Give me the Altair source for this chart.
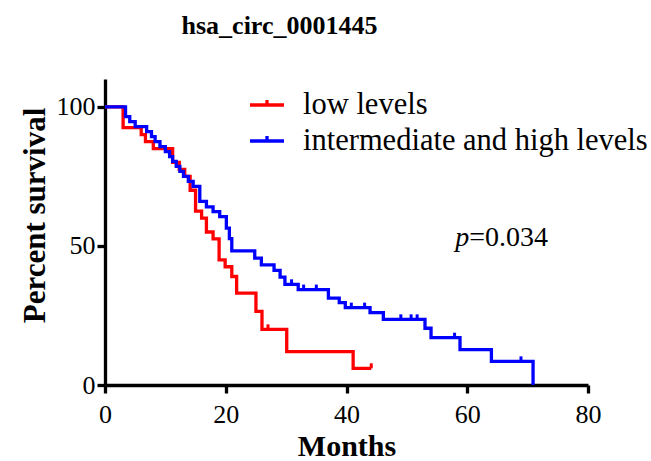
import altair as alt
import pandas as pd

# ---- data ----
groups = ["low levels", "intermediate and high levels"]
colors = ["#ff0000", "#0000ff"]

red_t = [0, 3.0, 6.0, 6.7, 8.0, 11.2, 12.3, 13.2, 14.1, 15.0, 16.0, 16.8, 17.9, 18.9,
         19.9, 21.0, 21.8, 25.0, 26.0, 30.1, 41.1, 44.1]
red_s = [100, 92.5, 90, 87.5, 85, 80, 77.5, 75, 70, 62.5, 60, 55, 52.5, 45,
         42.5, 39, 33, 26.5, 20, 12, 6, 6]
red_cens_t = [27.0, 44.1]
red_cens_s = [20, 6]

blue_t = [0, 3.4, 4.1, 5.0, 6.9, 7.7, 8.3, 9.1, 10.0, 10.7, 11.2, 11.8, 12.4, 13.0,
          13.8, 14.6, 15.7, 16.8, 17.9, 19.0, 20.1, 20.6, 21.0, 24.8, 25.9, 28.0,
          29.0, 29.8, 32.0, 37.0, 38.8, 39.8, 43.9, 46.1, 53.0, 54.0, 58.8, 64.0, 70.9]
blue_s = [100, 96.5, 94.7, 92.9, 91.1, 89.3, 87.5, 85.7, 83.9, 82.1, 80.4, 78.6, 76.8, 75.0,
          73.2, 71.4, 66.0, 64.0, 62.3, 60.5, 56.4, 52.6, 48.2, 45.6, 43.2, 41.2,
          38.8, 36.2, 34.3, 31.2, 29.6, 27.8, 26.0, 23.6, 20.4, 17.0, 12.7, 8.5, 0]
blue_cens_t = [30.9, 32.9, 35.0, 40.8, 43.0, 49.0, 50.7, 51.7, 57.9, 68.9]
blue_cens_s = [36.2, 34.3, 34.3, 27.8, 27.8, 23.6, 23.6, 23.6, 17.0, 8.5]

x_ticks = [0, 20, 40, 60, 80]
y_ticks = [0, 50, 100]
p_label_pos = (58.0, 50.0)

FONT = "Liberation Serif"

lines_df = pd.DataFrame({
    "t": red_t + blue_t,
    "s": red_s + blue_s,
    "g": [groups[0]] * len(red_t) + [groups[1]] * len(blue_t),
    "o": list(range(len(red_t))) + list(range(len(blue_t))),
})
cens_df = pd.DataFrame({
    "t": red_cens_t + blue_cens_t,
    "s": red_cens_s + blue_cens_s,
    "g": [groups[0]] * len(red_cens_t) + [groups[1]] * len(blue_cens_t),
})
p_df = pd.DataFrame({"t": [p_label_pos[0]], "s": [p_label_pos[1]]})

color_scale = alt.Scale(domain=groups, range=colors)

x_enc = alt.X("t:Q", scale=alt.Scale(domain=[0, 80], nice=False),
              axis=alt.Axis(values=x_ticks, title="Months", labelFlush=False,
                            labelPadding=8, titleY=70, titleBaseline="alphabetic"))
y_enc = alt.Y("s:Q", scale=alt.Scale(domain=[0, 110], nice=False),
              axis=alt.Axis(values=y_ticks, title="Percent survival", labelFlush=False,
                            labelPadding=2, titleX=-61, titleY=136,
                            titleFontSize=31, titleBaseline="alphabetic"))

lines = alt.Chart(lines_df).mark_line(
    interpolate="step-after", strokeWidth=3.3, strokeJoin="miter"
).encode(
    x=x_enc, y=y_enc, order="o:Q",
    color=alt.Color("g:N", scale=color_scale, sort=groups,
                    legend=alt.Legend(
                        title=None, orient="none", legendX=143, legendY=7,
                        symbolType="M-1,0H1M0,0V-0.3", symbolSize=1156,
                        symbolStrokeWidth=3.3, labelFont=FONT, labelFontSize=30.5,
                        labelColor="black", labelOffset=17, rowPadding=1,
                        padding=0, labelLimit=400)),
)

cens = alt.Chart(cens_df).mark_point(
    shape="M0,0L0,-1", size=100, strokeWidth=3, filled=False, opacity=1
).encode(
    x="t:Q", y="s:Q",
    color=alt.Color("g:N", scale=color_scale, legend=None),
)

p_italic = alt.Chart(p_df).mark_text(
    text="p", font=FONT, fontSize=28, fontStyle="italic", align="left",
    baseline="alphabetic", color="black"
).encode(x="t:Q", y="s:Q")

p_rest = alt.Chart(p_df).mark_text(
    text="=0.034", font=FONT, fontSize=28, align="left", dx=14,
    baseline="alphabetic", color="black"
).encode(x="t:Q", y="s:Q")

chart = alt.layer(lines, cens, p_italic, p_rest).properties(
    width=483, height=306,
    autosize=alt.AutoSizeParams(type="none"),
    padding={"left": 105, "top": 79, "right": 63, "bottom": 76},
    title=alt.TitleParams("hsa_circ_0001445", font=FONT, fontSize=26,
                          fontWeight="bold", color="black", anchor="middle",
                          dx=-67, offset=40),
).configure_view(stroke=None).configure_axis(
    domainColor="black", domainWidth=3.3, tickColor="black", tickWidth=3.3,
    tickSize=8, labelFont=FONT, labelFontSize=26, labelColor="black",
    titleFont=FONT, titleFontSize=30, titleFontWeight="bold", titleColor="black",
    grid=False,
)

chart.save("out.html", embed_options={"renderer": "svg", "actions": False})
